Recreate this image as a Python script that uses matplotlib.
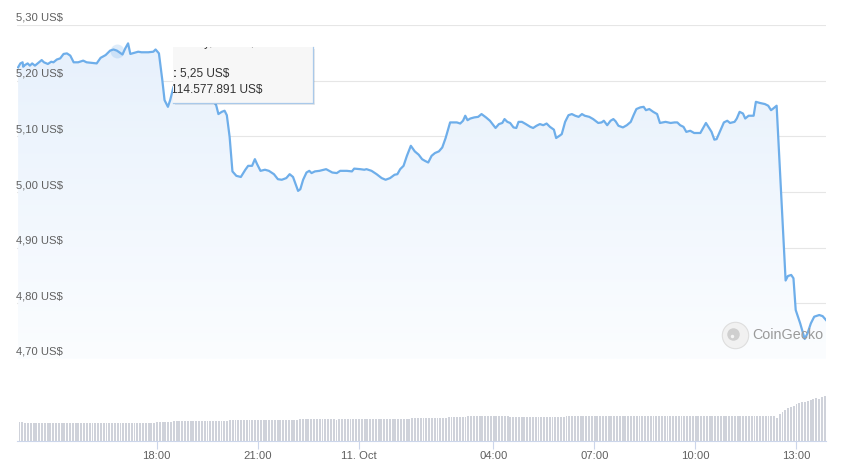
import numpy as np
import pandas as pd
import matplotlib
matplotlib.use("Agg")
import matplotlib.pyplot as plt
import matplotlib.dates as mdates
import matplotlib.transforms as mtransforms
from matplotlib.patches import Rectangle
from matplotlib.lines import Line2D

plt.rcParams['font.family'] = ['Liberation Sans', 'DejaVu Sans']

# ---------------- data ----------------
start_time = pd.Timestamp('2023-10-10 13:53')

price_minutes = [
    0, 4, 8, 9, 12, 17, 21, 25, 30, 36,
    42, 46, 53, 59, 63, 69, 75, 81, 87, 93,
    99, 107, 116, 122, 131, 140, 147, 156, 164, 170,
    176, 186, 191, 196, 200, 207, 214, 220, 232, 241,
    245, 251, 257, 261, 267, 271, 277, 289, 307, 324,
    342, 353, 357, 363, 368, 372, 377, 382, 389, 397,
    405, 410, 417, 422, 426, 432, 440, 447, 456, 463,
    470, 478, 484, 490, 494, 499, 503, 508, 514, 519,
    523, 529, 537, 549, 560, 568, 574, 586, 595, 599,
    610, 617, 621, 630, 639, 648, 655, 663, 671, 676,
    681, 687, 693, 700, 707, 714, 720, 725, 731, 737,
    743, 750, 756, 762, 770, 777, 782, 788, 793, 797,
    801, 806, 813, 820, 826, 834, 841, 851, 857, 863,
    867, 872, 877, 883, 888, 892, 898, 905, 913, 918,
    924, 930, 936, 942, 948, 955, 959, 965, 969, 975,
    981, 987, 993, 999, 1005, 1010, 1018, 1025, 1034, 1040,
    1044, 1050, 1056, 1061, 1065, 1070, 1078, 1085, 1092, 1097,
    1102, 1109, 1115, 1119, 1125, 1132, 1139, 1144, 1154, 1163,
    1170, 1175, 1180, 1186, 1191, 1198, 1205, 1216, 1221, 1226,
    1231, 1236, 1241, 1245, 1252, 1258, 1264, 1269, 1277, 1281,
    1286, 1292, 1296, 1302, 1311, 1315, 1322, 1331, 1337, 1342,
    1346, 1352, 1356, 1362, 1368, 1372, 1378, 1382, 1386, 1394,
    1402, 1407, 1413, 1419, 1428, 1434, 1440,
]

prices = [
    5.224, 5.231, 5.233, 5.225, 5.228, 5.231, 5.227, 5.231, 5.227, 5.232,
    5.237, 5.233, 5.230, 5.234, 5.233, 5.238, 5.240, 5.248, 5.249, 5.245,
    5.233, 5.233, 5.236, 5.233, 5.232, 5.231, 5.241, 5.246, 5.254, 5.256,
    5.254, 5.247, 5.258, 5.267, 5.248, 5.250, 5.252, 5.251, 5.251, 5.252,
    5.256, 5.249, 5.201, 5.165, 5.153, 5.165, 5.189, 5.191, 5.185, 5.180,
    5.171, 5.156, 5.140, 5.144, 5.146, 5.138, 5.099, 5.037, 5.029, 5.027,
    5.040, 5.047, 5.047, 5.059, 5.050, 5.038, 5.040, 5.038, 5.032, 5.023,
    5.022, 5.025, 5.032, 5.027, 5.016, 5.002, 5.005, 5.022, 5.035, 5.038,
    5.034, 5.037, 5.038, 5.041, 5.035, 5.034, 5.038, 5.038, 5.037, 5.042,
    5.041, 5.040, 5.041, 5.038, 5.032, 5.025, 5.022, 5.025, 5.031, 5.032,
    5.041, 5.047, 5.065, 5.083, 5.073, 5.067, 5.059, 5.056, 5.053, 5.065,
    5.070, 5.073, 5.080, 5.097, 5.125, 5.125, 5.125, 5.123, 5.128, 5.137,
    5.129, 5.132, 5.134, 5.135, 5.140, 5.134, 5.128, 5.115, 5.122, 5.124,
    5.131, 5.126, 5.124, 5.116, 5.115, 5.126, 5.126, 5.122, 5.117, 5.115,
    5.119, 5.122, 5.120, 5.123, 5.117, 5.112, 5.097, 5.101, 5.104, 5.126,
    5.138, 5.140, 5.137, 5.135, 5.140, 5.137, 5.135, 5.131, 5.124, 5.125,
    5.128, 5.120, 5.128, 5.131, 5.127, 5.119, 5.116, 5.120, 5.126, 5.138,
    5.149, 5.152, 5.153, 5.147, 5.149, 5.144, 5.140, 5.124, 5.126, 5.124,
    5.125, 5.125, 5.120, 5.117, 5.108, 5.110, 5.106, 5.106, 5.115, 5.124,
    5.116, 5.108, 5.094, 5.095, 5.111, 5.125, 5.128, 5.124, 5.126, 5.132,
    5.144, 5.141, 5.132, 5.137, 5.137, 5.162, 5.160, 5.158, 5.155, 5.147,
    5.150, 5.155, 5.076, 4.956, 4.841, 4.849, 4.851, 4.845, 4.788, 4.764,
    4.736, 4.746, 4.764, 4.776, 4.779, 4.777, 4.770,
]

# 24h volume (million US$), read as runs of equal bars (5-minute bars)
vol_levels = [120.8, 114.6, 118.9, 125.2, 131.5, 137.7, 131.5, 137.7, 144.0, 152.1,
              158.4, 152.1, 158.4, 153.4, 156.5, 153.4, 156.5, 144.0,
              169.0, 181.5, 197.0, 203.5, 213.0, 222.0, 231.6, 238.0, 244.0, 247.0,
              250.0, 257.0, 263.0, 269.0, 260.0, 275.4, 281.7]
vol_counts = [2, 47, 6, 20, 25, 13, 1, 26, 13, 7,
              15, 20, 69, 1, 1, 1, 3, 1,
              1, 1, 1, 1, 1, 1, 1, 1, 1, 1,
              1, 1, 1, 1, 1, 1, 1]

y_ticks = [4.70, 4.80, 4.90, 5.00, 5.10, 5.20, 5.30]
y_tick_labels = ['4,70 US$', '4,80 US$', '4,90 US$', '5,00 US$', '5,10 US$', '5,20 US$', '5,30 US$']
x_tick_times = ['2023-10-10 18:00', '2023-10-10 21:00', '2023-10-11 00:00', '2023-10-11 04:00',
                '2023-10-11 07:00', '2023-10-11 10:00', '2023-10-11 13:00']
x_tick_labels = ['18:00', '21:00', '11. Oct', '04:00', '07:00', '10:00', '13:00']

tooltip_price = '5,25 US$'
tooltip_volume = '114.577.891 US$'
hover_index = 30

# ---------------- derived ----------------
times = start_time + pd.to_timedelta(price_minutes, unit='min')
volumes = np.repeat(vol_levels, vol_counts)
vol_times = start_time + pd.to_timedelta(2.5, unit='min') + pd.to_timedelta(np.arange(len(volumes)) * 5, unit='min')
tnum = mdates.date2num(times)
vnum = mdates.date2num(vol_times)
x_lo = mdates.date2num(start_time - pd.Timedelta(minutes=2))
x_hi = mdates.date2num(start_time + pd.Timedelta(minutes=1440))

W, H = 841, 475
fig = plt.figure(figsize=(W / 100, H / 100), dpi=100)
fig.patch.set_facecolor('white')

LINE = '#6eaeea'
GRID = '#e6e6e6'
LABEL = '#606060'
AXLINE = '#ccd6eb'

# price axes
ax = fig.add_axes([17 / W, (H - 359) / H, 809 / W, 334 / H])
ax.set_xlim(x_lo, x_hi)
ax.set_ylim(4.70, 5.30)
for s in ax.spines.values():
    s.set_visible(False)
ax.set_xticks([])
ax.set_yticks([])
ax.patch.set_alpha(0)

for yv in y_ticks:
    ax.axhline(yv, color=GRID, lw=0.8, zorder=0)

trans_lbl = mtransforms.blended_transform_factory(ax.transAxes, ax.transData)
trans_lbl = mtransforms.offset_copy(trans_lbl, fig=fig, x=-1, y=7, units='dots')
for yv, lab in zip(y_ticks, y_tick_labels):
    ax.text(0, yv, lab, transform=trans_lbl, ha='left', va='center',
            fontsize=8.1, color=LABEL, zorder=5)

# gradient fill under line
poly = ax.fill_between(tnum, prices, 4.70, facecolor='none', edgecolor='none')
grad = np.linspace(0, 1, 256).reshape(-1, 1)
top = np.array([230, 240, 252]) / 255.0
bot = np.array([251, 253, 255]) / 255.0
img = top[None, None, :] * (1 - grad[:, :, None]) + bot[None, None, :] * grad[:, :, None]
im = ax.imshow(img, extent=[x_lo, x_hi, 4.70, 5.30], origin='upper', aspect='auto', zorder=1)
im.set_clip_path(poly.get_paths()[0], transform=ax.transData)

ax.plot(tnum, prices, color=LINE, lw=1.6, zorder=3, solid_joinstyle='round')
ax.plot([tnum[hover_index]], [prices[hover_index]], 'o', ms=10, color='#7cb5ec',
        alpha=0.25, mec='none', zorder=2)

# volume axes
vax = fig.add_axes([17 / W, (H - 441) / H, 809 / W, 55 / H])
vax.set_xlim(x_lo, x_hi)
vax.set_ylim(0, 344.3)
vax.bar(vnum, volumes, width=3.4 / 1440, color='#cfd2da', align='center', zorder=2)
for k in ['top', 'right', 'left']:
    vax.spines[k].set_visible(False)
vax.spines['bottom'].set_color(AXLINE)
vax.spines['bottom'].set_linewidth(0.8)
vax.set_yticks([])
vax.set_xticks(mdates.date2num(pd.to_datetime(x_tick_times)))
vax.set_xticklabels(x_tick_labels)
vax.tick_params(axis='x', length=6, width=0.8, color=AXLINE, labelsize=8.1,
                labelcolor=LABEL, pad=1.5)
vax.patch.set_alpha(0)

# tooltip
tx0, ty0, tw, th = 173 / W, (H - 103) / H, 140 / W, 56 / H
shadow = Rectangle((tx0 + 1.5 / W, ty0 - 1.5 / H), tw, th, transform=fig.transFigure,
                   facecolor='#000000', alpha=0.08, edgecolor='none', zorder=10)
fig.add_artist(shadow)
box = Rectangle((tx0, ty0), tw, th, transform=fig.transFigure,
                facecolor='#f7f7f7', edgecolor='none', zorder=11)
fig.add_artist(box)
fig.add_artist(Line2D([tx0 + tw, tx0 + tw], [ty0, ty0 + th], transform=fig.transFigure,
                      color='#a9c9ea', lw=0.9, zorder=12))
fig.add_artist(Line2D([tx0, tx0 + tw], [ty0, ty0], transform=fig.transFigure,
                      color='#a9c9ea', lw=0.9, zorder=12))
t1 = fig.text(tx0 - 8 / W, (H - 43) / H, 'Tuesday, Oct 10, 16:50', fontsize=8.6,
              color='#333333', ha='left', va='center', zorder=13)
t1.set_clip_path(box)
fig.text(tx0, (H - 74) / H, ':', fontsize=8.6, fontweight='bold', color='#333333',
         ha='left', va='center', zorder=13)
fig.text(tx0 + 7 / W, (H - 74) / H, tooltip_price, fontsize=8.6, color='#333333',
         ha='left', va='center', zorder=13)
t3 = fig.text(tx0 - 2 / W, (H - 90) / H, tooltip_volume, fontsize=8.6, color='#333333',
              ha='left', va='center', zorder=13)
t3.set_clip_path(box)

# watermark
fig.add_artist(Line2D([735 / W], [(H - 335) / H], transform=fig.transFigure, marker='o',
                      ms=19, mfc='#f1f1f1', mec='#dedede', mew=0.8, zorder=6))
fig.add_artist(Line2D([733 / W], [(H - 334) / H], transform=fig.transFigure, marker='o',
                      ms=9, mfc='#cfcfcf', mec='none', zorder=7))
fig.add_artist(Line2D([732 / W], [(H - 336) / H], transform=fig.transFigure, marker='o',
                      ms=2.5, mfc='#f5f5f5', mec='none', zorder=8))
fig.text(752 / W, (H - 335) / H, 'CoinGecko', fontsize=10.3, color='#9a9a9a',
         ha='left', va='center', zorder=6)

fig.savefig('out.png', dpi=100, facecolor='white')
